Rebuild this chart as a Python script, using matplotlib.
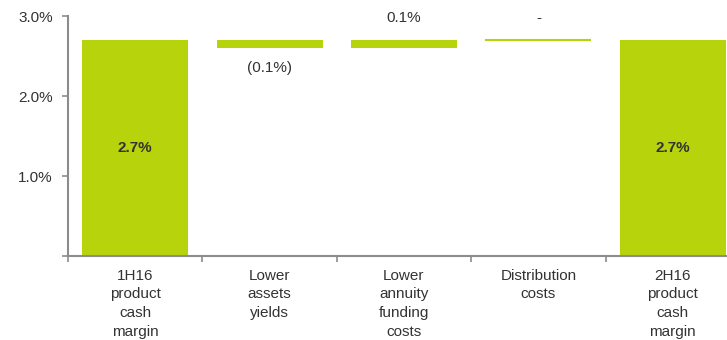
import matplotlib
matplotlib.use('Agg')
from matplotlib import pyplot as plt
from matplotlib.ticker import FixedLocator
plt.rcParams.update({'font.size': 11, 'font.family': ['Liberation Sans', 'DejaVu Sans']})

categories = ['1H16\nproduct\ncash\nmargin', 'Lower\nassets\nyields', 'Lower\nannuity\nfunding\ncosts',
              'Distribution\ncosts', '2H16\nproduct\ncash\nmargin']
changes = [2.7, -0.1, 0.1, 0.0, 2.7]
is_total = [True, False, False, False, True]
value_labels = ['2.7%', '(0.1%)', '0.1%', '-', '2.7%']
y_ticks = [0.0, 1.0, 2.0, 3.0]
y_ticklabels = ['', '1.0%', '2.0%', '3.0%']

green = '#B7D30C'
grey = '#8C8C8C'
text_col = '#333333'

fig = plt.figure(figsize=(7.27, 3.4), dpi=100)
# plot area runs a little past the right edge of the figure
ax = fig.add_axes([68/727, 84/340, 672/727, 240/340])

# waterfall: running level, floating bars for the steps
level = 0.0
for i, (val, total, lab) in enumerate(zip(changes, is_total, value_labels)):
    x = i + 0.5
    if total:
        bottom, height = 0.0, val
        level = val
    else:
        start = level
        level = level + val
        bottom, height = min(start, level), abs(val)
    ax.bar(x, height, bottom=bottom, width=0.79, color=green,
           edgecolor=green, linewidth=1.5 if height == 0 else 0)
    if total:
        ax.text(x, val / 2, lab, ha='center', va='center', fontweight='bold', color=text_col)
    elif val < 0:
        ax.text(x, bottom - 0.25, lab, ha='center', va='center', color=text_col)
    else:
        ax.text(x, bottom + height + 0.27, lab, ha='center', va='center', color=text_col)

ax.set_xlim(0, len(categories))
ax.set_ylim(0, 3.0)

ax.xaxis.set_major_locator(FixedLocator(range(len(categories) + 1)))
ax.xaxis.set_minor_locator(FixedLocator([i + 0.5 for i in range(len(categories))]))
ax.set_xticklabels([''] * (len(categories) + 1))
ax.set_xticklabels(categories, minor=True, linespacing=1.45)
ax.tick_params(axis='x', which='major', direction='out', length=4, width=1.2, color=grey)
ax.tick_params(axis='x', which='minor', length=0, pad=9, labelcolor=text_col)

ax.set_yticks(y_ticks)
ax.set_yticklabels(y_ticklabels)
ax.tick_params(axis='y', direction='out', length=4, width=1.2, color=grey, pad=7, labelcolor=text_col)

for side in ['top', 'right']:
    ax.spines[side].set_visible(False)
for side in ['left', 'bottom']:
    ax.spines[side].set_color(grey)
    ax.spines[side].set_linewidth(1.5)

plt.savefig('out.png', dpi=100)
